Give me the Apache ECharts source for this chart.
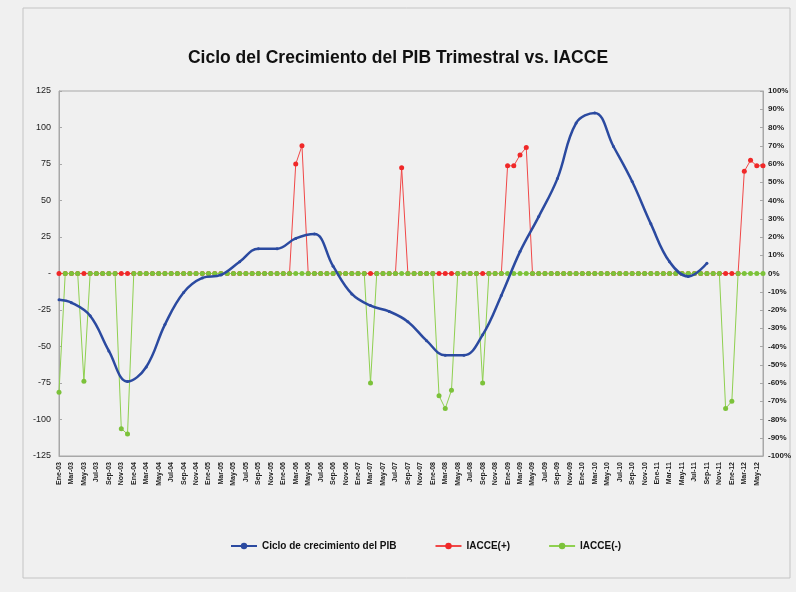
<!DOCTYPE html>
<html>
<head>
<meta charset="utf-8">
<script src="https://cdn.jsdelivr.net/npm/echarts@6/dist/echarts.min.js"></script>
<style>
  html, body { margin: 0; padding: 0; background: #f0f0f0; }
  #chart { width: 796px; height: 592px; }
</style>
</head>
<body>
<div id="chart"></div>
<script>
// meses en español, datos mensuales de Ene-03 a Jun-12
var meses = ['Ene', 'Feb', 'Mar', 'Abr', 'May', 'Jun', 'Jul', 'Ago', 'Sep', 'Oct', 'Nov', 'Dic'];
var anios = ['03', '04', '05', '06', '07', '08', '09', '10', '11', '12'];
var totalMeses = 114;

var categorias = [];
for (var k = 0; k < totalMeses; k++) {
  categorias.push(meses[k % 12] + '-' + anios[Math.floor(k / 12)]);
}

// Ciclo de crecimiento del PIB (trimestral, eje izquierdo)
var pibFechas = [
  'Ene-03', 'Mar-03', 'Jun-03', 'Sep-03', 'Dic-03',
  'Mar-04', 'Jun-04', 'Sep-04', 'Dic-04',
  'Mar-05', 'Jun-05', 'Sep-05', 'Dic-05',
  'Mar-06', 'Jun-06', 'Sep-06', 'Dic-06',
  'Mar-07', 'Jun-07', 'Sep-07', 'Dic-07',
  'Mar-08', 'Jun-08', 'Sep-08', 'Dic-08',
  'Mar-09', 'Jun-09', 'Sep-09', 'Dic-09',
  'Mar-10', 'Jun-10', 'Sep-10', 'Dic-10',
  'Mar-11', 'Jun-11', 'Sep-11'
];
var pibCiclo = [
  -18, -20, -29, -53, -74,
  -64, -35, -13, -3,
  -1, 8, 17, 17,
  24, 27, 5, -14,
  -22, -26, -33, -46,
  -56, -56, -42, -15,
  15, 39, 65, 103,
  110, 87, 63, 34,
  8, -2, 7
];

// IACCE en % (eje derecho), un renglón por año
var iaccePos = [
  0, 0, 0, 0, 0, 0, 0, 0, 0, 0, 0, 0,
  0, 0, 0, 0, 0, 0, 0, 0, 0, 0, 0, 0,
  0, 0, 0, 0, 0, 0, 0, 0, 0, 0, 0, 0,
  0, 0, 60, 70, 0, 0, 0, 0, 0, 0, 0, 0,
  0, 0, 0, 0, 0, 0, 0, 58, 0, 0, 0, 0,
  0, 0, 0, 0, 0, 0, 0, 0, 0, 0, 0, 0,
  59, 59, 65, 69, 0, 0, 0, 0, 0, 0, 0, 0,
  0, 0, 0, 0, 0, 0, 0, 0, 0, 0, 0, 0,
  0, 0, 0, 0, 0, 0, 0, 0, 0, 0, 0, 0,
  0, 0, 56, 62, 59, 59
];
var iacceNeg = [
  -65, 0, 0, 0, -59, 0, 0, 0, 0, 0, -85, -88,
  0, 0, 0, 0, 0, 0, 0, 0, 0, 0, 0, 0,
  0, 0, 0, 0, 0, 0, 0, 0, 0, 0, 0, 0,
  0, 0, 0, 0, 0, 0, 0, 0, 0, 0, 0, 0,
  0, 0, -60, 0, 0, 0, 0, 0, 0, 0, 0, 0,
  0, -67, -74, -64, 0, 0, 0, 0, -60, 0, 0, 0,
  0, 0, 0, 0, 0, 0, 0, 0, 0, 0, 0, 0,
  0, 0, 0, 0, 0, 0, 0, 0, 0, 0, 0, 0,
  0, 0, 0, 0, 0, 0, 0, 0, 0, 0, 0, -74,
  -70, 0, 0, 0, 0, 0
];

var nombres = ['Ciclo de crecimiento del PIB', 'IACCE(+)', 'IACCE(-)'];

(function () {
  var pibData = pibFechas.map(function (f, i) { return [f, pibCiclo[i]]; });

  var option = {
    backgroundColor: '#f0f0f0',
    animation: false,
    textStyle: { fontFamily: 'Liberation Sans, Arial, sans-serif' },
    title: {
      text: 'Ciclo del Crecimiento del PIB Trimestral vs. IACCE',
      left: 'center',
      top: 44,
      textStyle: {
        fontFamily: 'Liberation Sans, sans-serif',
        fontSize: 17.5,
        fontWeight: 'bold',
        color: '#111'
      }
    },
    graphic: [{
      type: 'rect',
      shape: { x: 23, y: 8, width: 767, height: 570 },
      style: { fill: 'none', stroke: '#c4c4c4', lineWidth: 1 },
      silent: true
    }],
    legend: {
      data: nombres,
      left: 225,
      top: 536,
      itemGap: 38,
      itemWidth: 26,
      itemHeight: 8,
      textStyle: { fontSize: 10, fontWeight: 'bold', color: '#111' }
    },
    grid: {
      left: 59, right: 33, top: 91, bottom: 136,
      show: true, borderColor: '#a8a8a8', borderWidth: 1,
      backgroundColor: 'transparent'
    },
    xAxis: {
      type: 'category',
      data: categorias,
      boundaryGap: false,
      axisLine: { onZero: false, lineStyle: { color: '#a8a8a8' } },
      axisTick: { show: false },
      axisLabel: { rotate: 90, interval: 1, fontSize: 7, fontWeight: 'bold', color: '#222', margin: 6 },
      splitLine: { show: false }
    },
    yAxis: [
      {
        type: 'value',
        min: -125, max: 125, interval: 25,
        axisLine: { show: true, lineStyle: { color: '#a8a8a8' } },
        axisTick: { show: true, inside: true, length: 3 },
        axisLabel: {
          fontSize: 9, color: '#222', margin: 8,
          formatter: function (v) { return v === 0 ? '-' : v; }
        },
        splitLine: { show: false }
      },
      {
        type: 'value',
        min: -100, max: 100, interval: 10,
        axisLine: { show: true, lineStyle: { color: '#a8a8a8' } },
        axisTick: { show: true, inside: true, length: 3 },
        axisLabel: { fontSize: 8, fontWeight: 'bold', color: '#222', margin: 5, formatter: '{value}%' },
        splitLine: { show: false }
      }
    ],
    series: [
      {
        name: nombres[1],
        type: 'line',
        yAxisIndex: 1,
        data: iaccePos,
        symbol: 'circle',
        symbolSize: 5,
        showAllSymbol: true,
        lineStyle: { color: '#f04848', width: 1 },
        itemStyle: { color: '#f02828' },
        z: 3
      },
      {
        name: nombres[2],
        type: 'line',
        yAxisIndex: 1,
        data: iacceNeg,
        symbol: 'circle',
        symbolSize: 5,
        showAllSymbol: true,
        lineStyle: { color: '#8fd050', width: 1 },
        itemStyle: { color: '#7cc23a' },
        z: 4
      },
      {
        name: nombres[0],
        type: 'line',
        yAxisIndex: 0,
        data: pibData,
        smooth: 0.4,
        symbol: 'circle',
        symbolSize: 3,
        showAllSymbol: true,
        lineStyle: { color: '#2b4aa0', width: 2.5 },
        itemStyle: { color: '#2b4aa0' },
        z: 5
      }
    ]
  };

  var myChart = echarts.init(document.getElementById('chart'));
  myChart.setOption(option);
})();
</script>
</body>
</html>
